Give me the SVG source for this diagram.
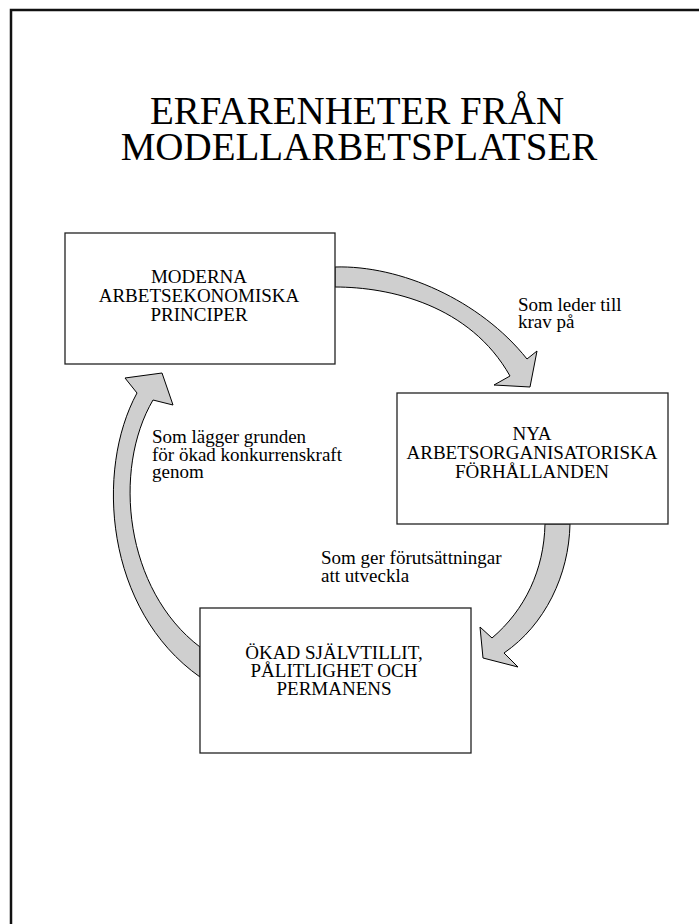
<svg xmlns="http://www.w3.org/2000/svg" width="699" height="924" viewBox="0 0 699 924">
<style>
text { font-family: "Liberation Serif", "Times New Roman", serif; fill: #000; }
.title { font-size: 39px; text-anchor: middle; }
.box { fill: #fff; stroke: #222; stroke-width: 1.3; }
.bt { font-size: 19px; text-anchor: middle; }
.lbl { font-size: 19px; }
.arrow { fill: #cfcfcf; stroke: #000; stroke-width: 1; stroke-linejoin: miter; }
</style>
<rect x="11" y="10" width="720" height="940" fill="none" stroke="#111" stroke-width="2.5"/>
<g id="title">
<text class="title" x="357" y="124">ERFARENHETER FRÅN</text>
<text class="title" x="359" y="160">MODELLARBETSPLATSER</text>
</g>
<g id="connectors">
<path class="arrow" d="M335,267 C400,265 480,300 527,359 L537,351 L530,387 L494,385 L510,376 C470,305 390,287 335,287 Z"/>
<path class="arrow" d="M545,524 L570,524 C569,575 545,625 504,653 L518,667 L483,658 L480,627 L492,638 C525,610 544,570 545,524 Z"/>
<path class="arrow" d="M200,647 C125,590 112,470 153,400 L173,405 L162,373 L125,378 L137,393 C95,470 105,610 200,677 Z"/>
</g>
<g id="n1">
<rect class="box" x="65" y="233" width="270" height="131"/>
<text class="bt" x="199" y="283">MODERNA</text>
<text class="bt" x="199" y="302">ARBETSEKONOMISKA</text>
<text class="bt" x="199" y="321">PRINCIPER</text>
</g>
<g id="n2">
<rect class="box" x="397" y="393" width="271" height="131"/>
<text class="bt" x="532" y="440">NYA</text>
<text class="bt" x="532" y="459">ARBETSORGANISATORISKA</text>
<text class="bt" x="532" y="478">FÖRHÅLLANDEN</text>
</g>
<g id="n3">
<rect class="box" x="200" y="608" width="271" height="145"/>
<text class="bt" x="334" y="659">ÖKAD SJÄLVTILLIT,</text>
<text class="bt" x="334" y="677">PÅLITLIGHET OCH</text>
<text class="bt" x="334" y="695">PERMANENS</text>
</g>
<g id="labels">
<text class="lbl" x="518" y="311">Som leder till</text>
<text class="lbl" x="518" y="328">krav på</text>
<text class="lbl" x="321" y="564">Som ger förutsättningar</text>
<text class="lbl" x="321" y="582">att utveckla</text>
<text class="lbl" x="152" y="443">Som lägger grunden</text>
<text class="lbl" x="152" y="461">för ökad konkurrenskraft</text>
<text class="lbl" x="152" y="478">genom</text>
</g>
</svg>
